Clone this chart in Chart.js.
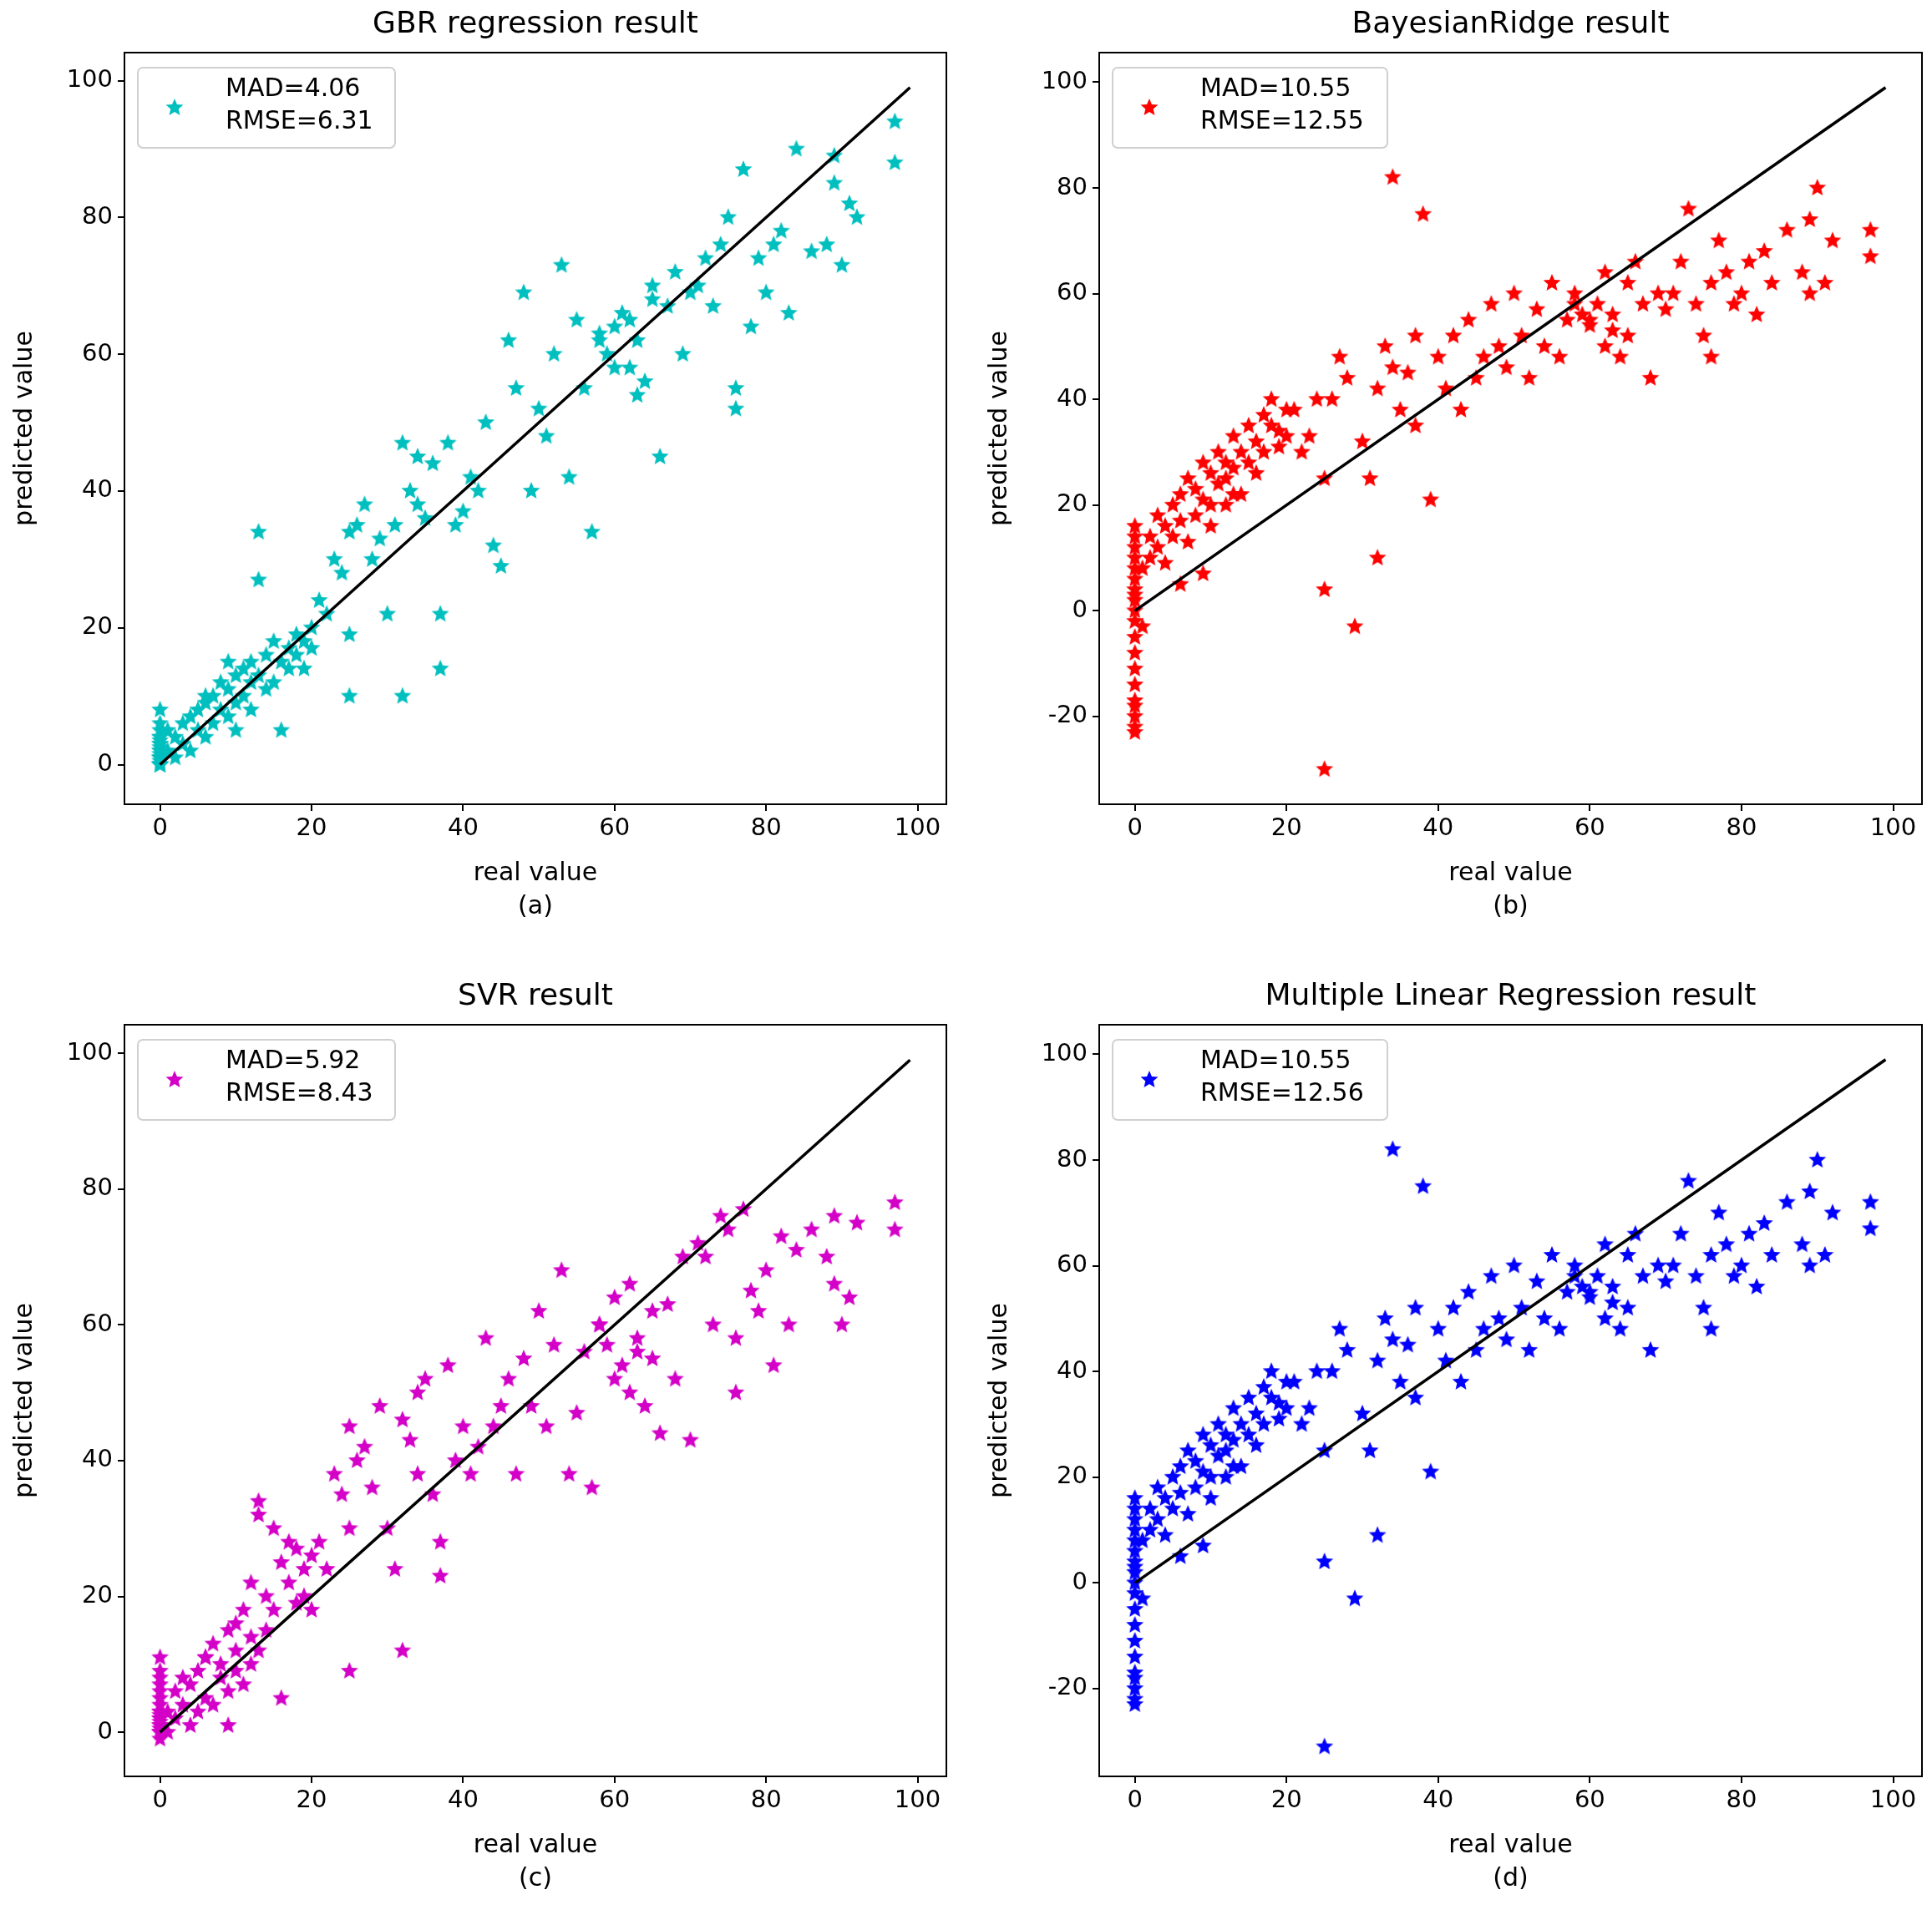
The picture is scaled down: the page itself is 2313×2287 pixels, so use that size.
<!DOCTYPE html>
<html><head><meta charset="utf-8">
<script src="https://cdn.jsdelivr.net/npm/chart.js@4.4.1/dist/chart.umd.min.js"></script>
<style>body{margin:0;background:#fff;width:2313px;height:2287px;position:relative;overflow:hidden}
.c{position:absolute}</style></head><body>
<div class="c" style="left:0;top:0;width:1156px;height:1143px"><canvas id="a"></canvas></div>
<div class="c" style="left:1167px;top:0;width:1146px;height:1143px"><canvas id="b"></canvas></div>
<div class="c" style="left:0;top:1164px;width:1156px;height:1123px"><canvas id="c"></canvas></div>
<div class="c" style="left:1167px;top:1164px;width:1146px;height:1123px"><canvas id="d"></canvas></div>
<script>
const realValue = [0,0,0,0,0,0,0,0,0,0,0,0,0,0,0,0,0,0,0,0,
1,1,2,2,3,3,4,4,5,5,6,6,7,7,8,8,9,9,10,10,10,11,11,12,12,12,13,13,14,14,15,15,16,16,17,17,18,18,19,19,20,20,13,9,6,
21,22,23,24,25,25,25,26,27,28,29,30,31,32,32,33,34,34,35,36,37,37,38,39,40,
41,42,43,44,45,46,47,48,49,50,51,52,53,54,55,56,57,58,59,60,61,62,62,63,64,65,65,66,67,68,69,70,63,58,60,
71,72,73,74,75,76,76,77,78,79,80,81,82,83,84,86,88,89,90,91,92,97,97,89];
const gbrPred = [0,1,2,3,4,0.5,1.5,2.5,0,3.5,5,8,1,2,0,4,6,1,3,0,
2,5,1,4,3,6,7,2,5,8,4,9,6,10,8,12,7,11,9,13,5,10,14,12,8,15,34,13,11,16,12,18,15,5,17,14,16,19,18,14,20,17,27,15,10,
24,22,30,28,10,19,34,35,38,30,33,22,35,47,10,40,38,45,36,44,14,22,47,35,37,
42,40,50,32,29,62,55,69,40,52,48,60,73,42,65,55,34,62,60,64,66,58,65,62,56,70,68,45,67,72,60,69,54,63,58,
70,74,67,76,80,55,52,87,64,74,69,76,78,66,90,75,76,89,73,82,80,94,88,85];
const brPred = [-23,-20,-17,-14,-11,-8,-5,-2,0,2,4,6,8,10,12,14,16,-22,-18,3,
-3,8,10,14,12,18,16,9,20,14,22,17,25,13,23,18,28,21,20,26,16,30,24,28,20,25,33,27,30,22,35,28,32,26,37,30,35,40,34,31,38,33,22,7,5,
38,30,33,40,-30,4,25,40,48,44,-3,32,25,42,10,50,82,46,38,45,35,52,75,21,48,
42,52,38,55,44,48,58,50,46,60,52,44,57,50,62,48,55,60,56,54,58,50,64,56,48,62,52,66,58,44,60,57,53,58,55,
60,66,76,58,52,62,48,70,64,58,60,66,56,68,62,72,64,74,80,62,70,72,67,60];
const svrPred = [0,1,2,3,5,7,9,11,-1,0.5,1.5,2.5,4,6,8,0,1,3,2,0,
3,0,6,2,4,8,7,1,9,3,11,5,13,4,10,8,15,6,12,16,9,18,7,14,22,10,34,12,20,15,30,18,25,5,22,28,19,27,24,20,26,18,32,1,11,
28,24,38,35,9,30,45,40,42,36,48,30,24,46,12,43,50,38,52,35,23,28,54,40,45,
38,42,58,45,48,52,38,55,48,62,45,57,68,38,47,56,36,60,57,64,54,50,66,58,48,62,55,44,63,52,70,43,56,60,52,
72,70,60,76,74,50,58,77,65,62,68,54,73,60,71,74,70,76,60,64,75,78,74,66];
const mlrPred = [-23,-20,-17,-14,-11,-8,-5,-2,0,2,4,6,8,10,12,14,16,-22,-18,3,
-3,8,10,14,12,18,16,9,20,14,22,17,25,13,23,18,28,21,20,26,16,30,24,28,20,25,33,27,30,22,35,28,32,26,37,30,35,40,34,31,38,33,22,7,5,
38,30,33,40,-31,4,25,40,48,44,-3,32,25,42,9,50,82,46,38,45,35,52,75,21,48,
42,52,38,55,44,48,58,50,46,60,52,44,57,50,62,48,55,60,56,54,58,50,64,56,48,62,52,66,58,44,60,57,53,58,55,
60,66,76,58,52,62,48,70,64,58,60,66,56,68,62,72,64,74,80,62,70,72,67,60];
const xTicks = [0,20,40,60,80,100];
const yTicksA = [0,20,40,60,80,100];
const yTicksB = [-20,0,20,40,60,80,100];
const FONT = 'DejaVu Sans';

function star(color, r){
  const c=document.createElement('canvas'); const s=Math.ceil(r*2+2); c.width=s;c.height=s;
  const g=c.getContext('2d'); g.fillStyle=color; g.beginPath();
  for(let i=0;i<10;i++){const rr=i%2?r*0.45:r; const a=-Math.PI/2+i*Math.PI/5;
    g.lineTo(s/2+rr*Math.cos(a), s/2+rr*Math.sin(a));}
  g.closePath(); g.fill(); return c;
}

function make(id, title, sub, ys, color, yr, yt, mad, rmse, boxW, xAxisH, padR){
  const pts = realValue.map((x,i)=>({x, y: ys[i]}));
  const deco = {id:'deco', afterDraw(ch){
    const g=ch.ctx, a=ch.chartArea; g.save();
    g.strokeStyle='#000'; g.lineWidth=2; g.strokeRect(a.left,a.top,a.right-a.left,a.bottom-a.top);
    g.fillStyle='#000'; g.textAlign='center'; g.textBaseline='middle';
    const cx=(a.left+a.right)/2;
    g.font='36px "'+FONT+'"'; g.fillText(title,cx,a.top-33);
    g.font='30px "'+FONT+'"'; g.fillText('real value',cx,a.bottom+83); g.fillText(sub,cx,a.bottom+123);
    g.save(); g.translate(30,(a.top+a.bottom)/2); g.rotate(-Math.PI/2); g.fillText('predicted value',0,0); g.restore();
    const bx=a.left+16, by=a.top+18, bw=boxW, bh=96, r=6;
    g.beginPath(); g.moveTo(bx+r,by); g.arcTo(bx+bw,by,bx+bw,by+bh,r); g.arcTo(bx+bw,by+bh,bx,by+bh,r);
    g.arcTo(bx,by+bh,bx,by,r); g.arcTo(bx,by,bx+bw,by,r); g.closePath();
    g.fillStyle='rgba(255,255,255,0.85)'; g.fill(); g.strokeStyle='#d0d0d0'; g.lineWidth=2; g.stroke();
    const st=star(color,11); g.drawImage(st,a.left+60-st.width/2,a.top+66-st.height/2);
    g.fillStyle='#000'; g.textAlign='left'; g.font='30px "'+FONT+'"';
    g.fillText('MAD='+mad,a.left+121,a.top+44); g.fillText('RMSE='+rmse,a.left+121,a.top+83);
    g.restore();
  }};
  new Chart(document.getElementById(id),{
    type:'scatter',
    data:{datasets:[
      {data:pts, pointStyle:star(color,11), pointRadius:11, order:2},
      {data:[{x:0,y:0},{x:99,y:99}], showLine:true, borderColor:'#000', borderWidth:3.5, pointRadius:0, order:1}
    ]},
    options:{responsive:true, maintainAspectRatio:false, animation:false,
      layout:{padding:{top:63,right:padR,left:0,bottom:0}},
      plugins:{legend:{display:false},tooltip:{enabled:false}},
      scales:{
        x:{type:'linear',min:-4.7,max:103.8,
          afterBuildTicks(s){s.ticks=xTicks.map(v=>({value:v}));},
          afterFit(s){s.height=xAxisH;},
          grid:{drawOnChartArea:false,tickLength:8,color:'#000',lineWidth:2},
          border:{color:'#000',width:2},
          ticks:{color:'#000',font:{family:FONT,size:29},padding:4,maxRotation:0}},
        y:{type:'linear',min:yr[0],max:yr[1],
          afterBuildTicks(s){s.ticks=yt.map(v=>({value:v}));},
          afterFit(s){s.width=149;},
          grid:{drawOnChartArea:false,tickLength:8,color:'#000',lineWidth:2},
          border:{color:'#000',width:2},
          ticks:{color:'#000',font:{family:FONT,size:29},padding:6}}
      }},
    plugins:[deco]
  });
}
make('a','GBR regression result','(a)',gbrPred,'#00bfbf',[-5.8,104.1],yTicksA,'4.06','6.31',308,180,23);
make('b','BayesianRidge result','(b)',brPred,'#ff0000',[-36.6,105.6],yTicksB,'10.55','12.55',329,180,12);
make('c','SVR result','(c)',svrPred,'#d400c8',[-6.5,104.2],yTicksA,'5.92','8.43',308,160,23);
make('d','Multiple Linear Regression result','(d)',mlrPred,'#0000ff',[-36.6,105.6],yTicksB,'10.55','12.56',329,160,12);
</script></body></html>
